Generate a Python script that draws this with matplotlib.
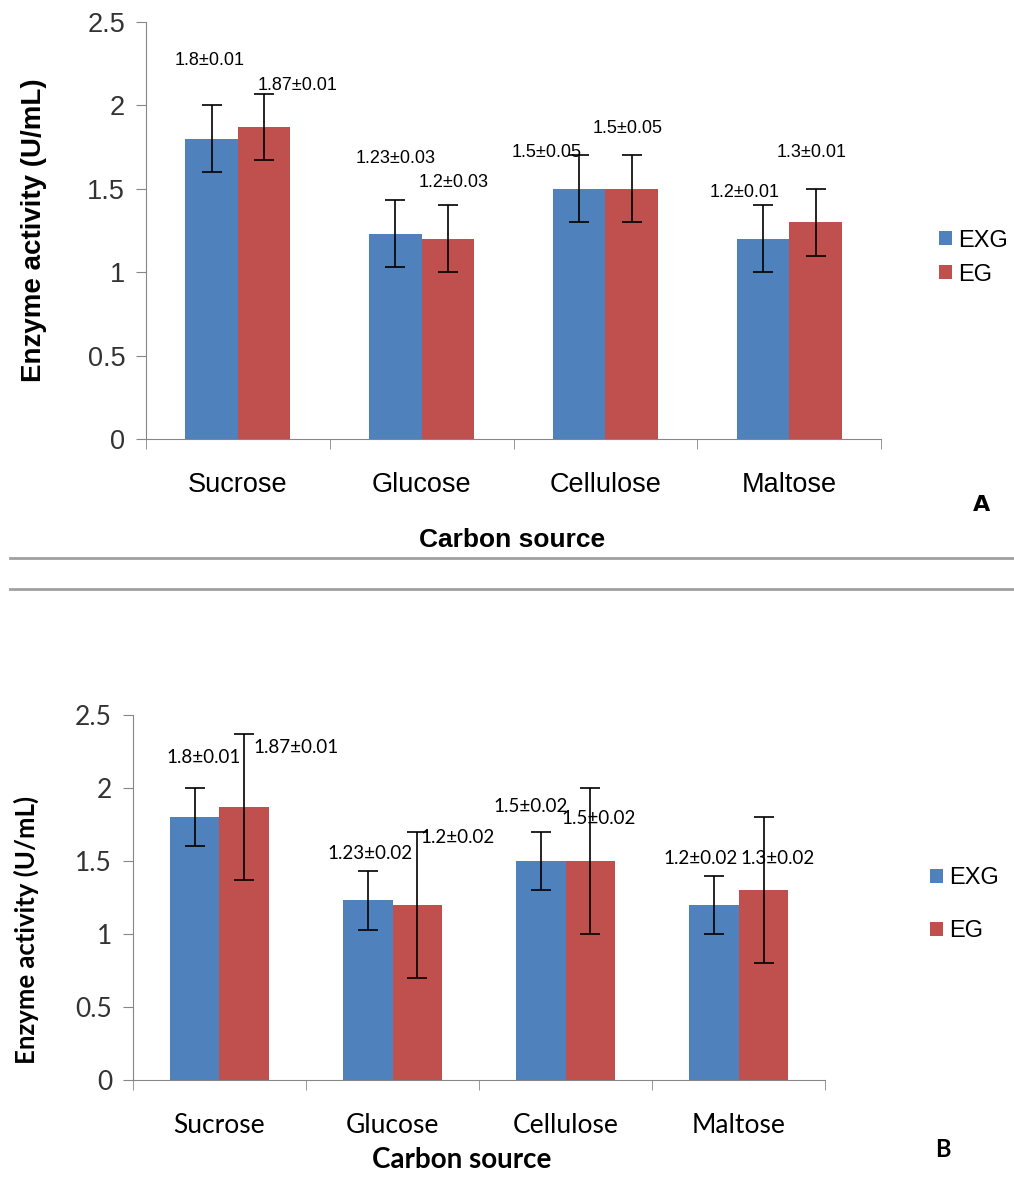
import matplotlib
matplotlib.use("Agg")
import matplotlib.pyplot as plt
from matplotlib.lines import Line2D
import numpy as np

categories = ["Sucrose", "Glucose", "Cellulose", "Maltose"]
series = ["EXG", "EG"]

# panel A
exg_a = [1.8, 1.23, 1.5, 1.2]
eg_a = [1.87, 1.2, 1.5, 1.3]
exg_err_a = [0.2, 0.2, 0.2, 0.2]
eg_err_a = [0.2, 0.2, 0.2, 0.2]
exg_lbl_a = ["1.8±0.01", "1.23±0.03", "1.5±0.05", "1.2±0.01"]
eg_lbl_a = ["1.87±0.01", "1.2±0.03", "1.5±0.05", "1.3±0.01"]

# panel B
exg_b = [1.8, 1.23, 1.5, 1.2]
eg_b = [1.87, 1.2, 1.5, 1.3]
exg_err_b = [0.2, 0.2, 0.2, 0.2]
eg_err_b = [0.5, 0.5, 0.5, 0.5]
exg_lbl_b = ["1.8±0.01", "1.23±0.02", "1.5±0.02", "1.2±0.02"]
eg_lbl_b = ["1.87±0.01", "1.2±0.02", "1.5±0.02", "1.3±0.02"]

# where the data labels sit (x shift from bar centre, y in data units)
lbl_dx_a = [[-0.01, 0.18], [0.0, 0.03], [-0.18, -0.02], [-0.1, -0.02]]
lbl_y_a = [[2.27, 2.12], [1.68, 1.535], [1.72, 1.86], [1.475, 1.72]]
lbl_dx_b = [[0.05, 0.3], [0.01, 0.23], [-0.06, 0.05], [-0.08, 0.08]]
lbl_y_b = [[2.21, 2.28], [1.55, 1.66], [1.87, 1.79], [1.52, 1.52]]

BLUE = "#4F81BD"
RED = "#C0504D"
GRAY = "#868686"


def draw_panel(ax, exg, eg, exg_err, eg_err, exg_lbl, eg_lbl, lbl_dx, lbl_y,
               font, tick_size, label_size, ann_size):
    x = np.arange(len(categories))
    w = 1 / 3.5
    ax.bar(x - w / 2, exg, w, color=BLUE, label=series[0], zorder=2)
    ax.bar(x + w / 2, eg, w, color=RED, label=series[1], zorder=2)
    ax.errorbar(x - w / 2, exg, yerr=exg_err, fmt="none", ecolor="black",
                elinewidth=1.2, capsize=7, capthick=1.2, zorder=3)
    ax.errorbar(x + w / 2, eg, yerr=eg_err, fmt="none", ecolor="black",
                elinewidth=1.2, capsize=7, capthick=1.2, zorder=3)

    for i in range(len(categories)):
        ax.text(x[i] - w / 2 + lbl_dx[i][0], lbl_y[i][0], exg_lbl[i],
                ha="center", va="center", fontsize=ann_size, family=font)
        ax.text(x[i] + w / 2 + lbl_dx[i][1], lbl_y[i][1], eg_lbl[i],
                ha="center", va="center", fontsize=ann_size, family=font)

    ax.set_xlim(-0.5, len(categories) - 0.5)
    ax.set_ylim(0, 2.5)
    ax.set_yticks([0, 0.5, 1, 1.5, 2, 2.5])
    ax.set_yticklabels(["0", "0.5", "1", "1.5", "2", "2.5"], family=font,
                       fontsize=tick_size, color="#333333")
    ax.set_xticks(x)
    ax.set_xticklabels(categories, family=font, fontsize=tick_size)
    ax.set_xticks(np.arange(len(categories) + 1) - 0.5, minor=True)
    ax.tick_params(axis="x", which="major", length=0, pad=24)
    ax.tick_params(axis="x", which="minor", length=7, color=GRAY)
    ax.tick_params(axis="y", length=7, color=GRAY, pad=8)
    for s in ["top", "right"]:
        ax.spines[s].set_visible(False)
    for s in ["left", "bottom"]:
        ax.spines[s].set_color(GRAY)
    ax.set_ylabel("Enzyme activity (U/mL)", family=font, fontsize=label_size,
                  fontweight="bold")


fig = plt.figure(figsize=(10.14, 11.95), dpi=100)

fa = "Liberation Sans"
ax1 = fig.add_axes([0.144, 0.6326, 0.725, 0.349])
draw_panel(ax1, exg_a, eg_a, exg_err_a, eg_err_a, exg_lbl_a, eg_lbl_a,
           lbl_dx_a, lbl_y_a, fa, 19.5, 20, 13)
ax1.yaxis.set_label_coords(-0.135, 0.5)
fig.text(0.505, 0.548, "Carbon source", ha="center", va="center",
         family=fa, fontsize=19, fontweight="bold")
fig.text(0.968, 0.577, "A", ha="center", va="center", family="DejaVu Sans",
         fontsize=16, fontweight="bold")
ax1.legend(loc="center left", bbox_to_anchor=(1.05, 0.435), frameon=False,
           prop={"family": fa, "size": 17}, handlelength=0.55,
           handleheight=0.55, handletextpad=0.25, labelspacing=0.5)

fb = "Lato"
ax2 = fig.add_axes([0.131, 0.0962, 0.683, 0.3055])
draw_panel(ax2, exg_b, eg_b, exg_err_b, eg_err_b, exg_lbl_b, eg_lbl_b,
           lbl_dx_b, lbl_y_b, fb, 19, 18.5, 13.5)
ax2.yaxis.set_label_coords(-0.135, 0.41)
fig.text(0.455, 0.0293, "Carbon source", ha="center", va="center",
         family=fb, fontsize=20, fontweight="bold")
fig.text(0.93, 0.0377, "B", ha="center", va="center", family=fb,
         fontsize=17, fontweight="bold")
ax2.legend(loc="center left", bbox_to_anchor=(1.12, 0.48), frameon=False,
           prop={"family": fa, "size": 17}, handlelength=0.55,
           handleheight=0.55, handletextpad=0.25, labelspacing=1.3)

# separator lines between the two panels
for yy in [0.533, 0.507]:
    fig.add_artist(Line2D([0.01, 1.0], [yy, yy], color="#a0a0a0", lw=2))

fig.savefig("out.png", dpi=100)
